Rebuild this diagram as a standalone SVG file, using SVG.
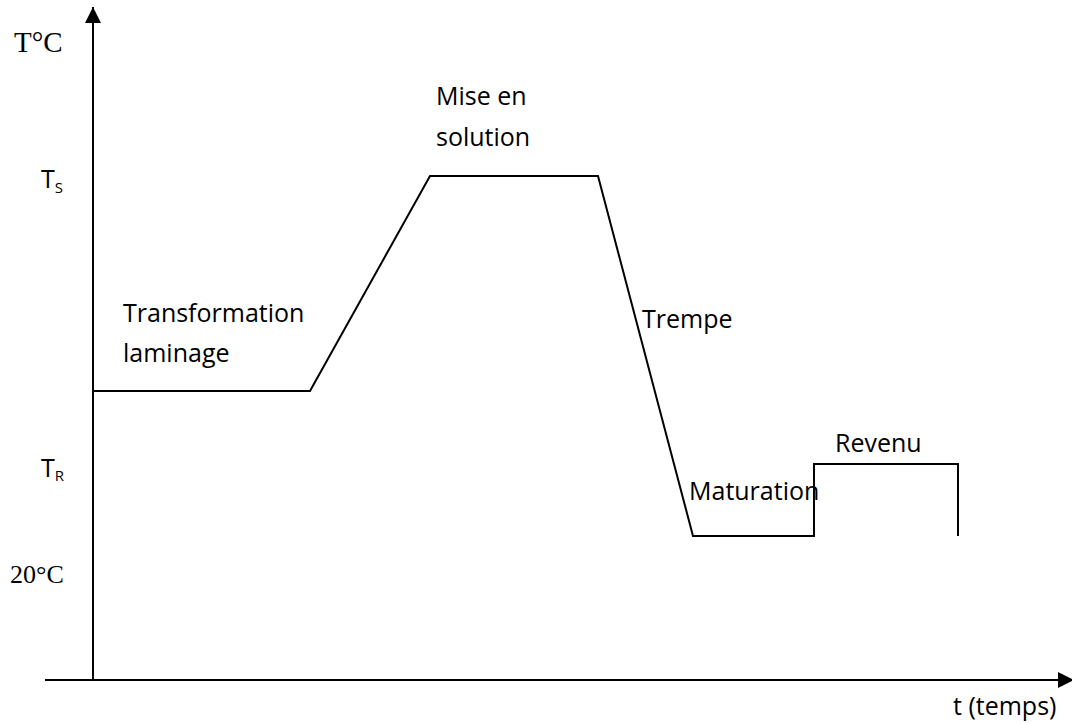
<svg xmlns="http://www.w3.org/2000/svg" width="1072" height="724" viewBox="0 0 1072 724">
<style>
.lbl{font-family:"Open Sans","Liberation Sans",sans-serif;font-size:25px;fill:#000}
.sub{font-size:15px}
.ser{font-family:"Liberation Serif",serif;fill:#000}
.ln{fill:none;stroke:#000;stroke-width:2}
</style>
<defs>
<marker id="ah" viewBox="0 0 16 16" markerWidth="16" markerHeight="16" refX="16" refY="8" orient="auto" markerUnits="userSpaceOnUse">
<path d="M0,0 L16,8 L0,16 Z" fill="#000"/>
</marker>
</defs>
<rect width="1072" height="724" fill="#fff"/>
<g id="connectors">
<line class="ln" x1="93" y1="681" x2="93" y2="7" marker-end="url(#ah)"/>
<line class="ln" x1="45" y1="680" x2="1074" y2="680" marker-end="url(#ah)"/>
<polyline id="curve" class="ln" points="93,391 310,391 430,176 598,176 693,536 814,536 814,464 958,464 958,536"/>
</g>
<g id="axis-labels">
<text class="ser" x="14" y="52" font-size="29">T°C</text>
<text class="lbl" x="41" y="188">T<tspan class="sub" dy="5">S</tspan></text>
<text class="lbl" x="41" y="477">T<tspan class="sub" dy="4">R</tspan></text>
<text class="ser" x="10" y="583" font-size="26">20°C</text>
<text class="lbl" x="953" y="715">t (temps)</text>
</g>
<g id="phase-labels">
<text class="lbl" x="436" y="105">Mise en</text>
<text class="lbl" x="436" y="146">solution</text>
<text class="lbl" x="123" y="322">Transformation</text>
<text class="lbl" x="123" y="362">laminage</text>
<text class="lbl" x="642" y="328">Trempe</text>
<text class="lbl" x="835" y="452">Revenu</text>
<text class="lbl" x="689" y="500">Maturation</text>
</g>
</svg>
